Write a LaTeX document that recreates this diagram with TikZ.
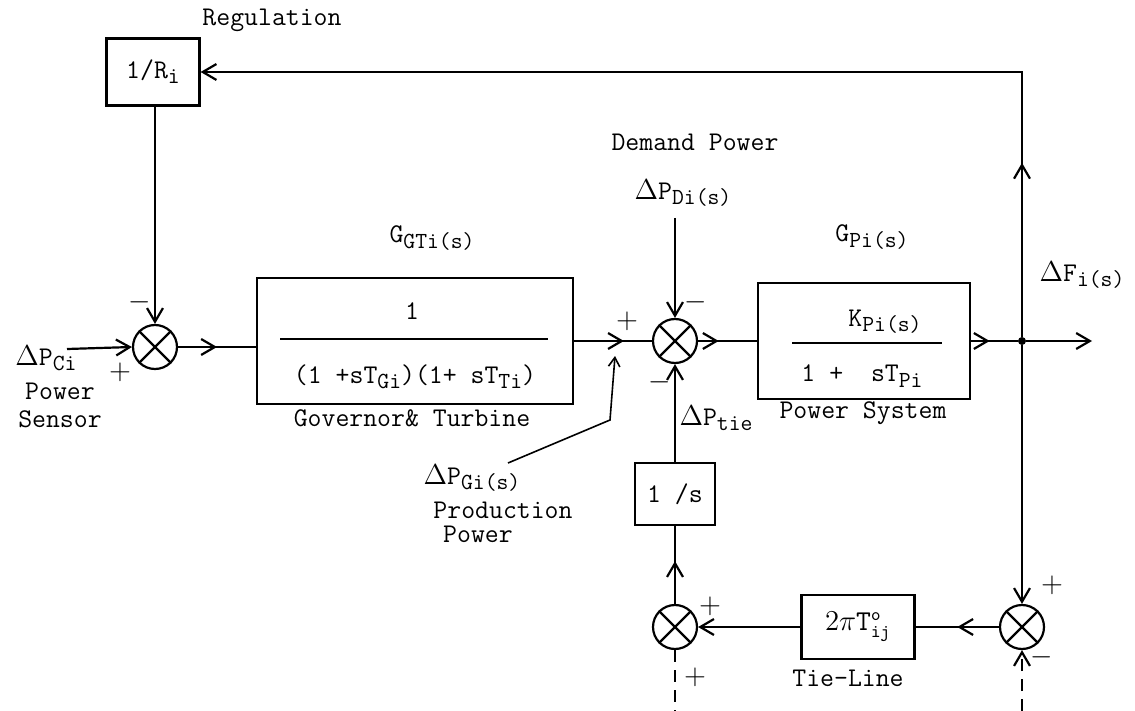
\documentclass[tikz,border=0pt]{standalone}
\usetikzlibrary{arrows.meta, positioning, decorations.markings}
\newcommand{\tsub}[1]{\raisebox{-0.45ex}{\fontsize{11.5}{12}\selectfont #1}}

\begin{document}
\begin{tikzpicture}[x=0.5pt,y=-0.5pt,
    font=\ttfamily\fontsize{13.5}{14}\selectfont,
    blk/.style={draw,line width=1.1pt,inner sep=0pt},
    sumj/.style={draw,circle,line width=1.1pt,minimum size=22pt,inner sep=0pt},
    fbar/.style={fill,inner sep=0pt,minimum height=1.1pt,minimum width=#1},
    sgn/.style={font=\Large,inner sep=0pt},
    wire/.style={line width=1.1pt},
    arr/.style={wire,-{Straight Barb[length=2.4mm,width=2.8mm]}},
    midarr/.style={wire,postaction={decorate},decoration={markings,
        mark=at position #1 with {\arrow{Straight Barb[length=2.4mm,width=2.8mm]}}}}]
  \useasboundingbox (0,0) rectangle (1135,711);
  % regulation loop
  \node[blk,minimum width=46.5pt,minimum height=33.5pt](reg) at (153,72){1/R\tsub{i}};
  \node(regl) at (272,20){Regulation};
  \node[sumj](sa) at (155,347){};
  \node[anchor=west,inner sep=0pt](pci) at (15,358){$\Delta$P\tsub{Ci}};
  \coordinate(pcin) at (67,349);
  \node[align=center](pcs) at (60,405){Power\\Sensor};
  \node[sgn](sap) at (120,372){$+$};
  \node[sgn](sam) at (140,302){$-$};
  % governor and turbine
  \node[blk,minimum width=158pt,minimum height=63pt](gt) at (415,341){};
  \node[fbar=134pt](gtbar) at (414,339){};
  \node(gtnum) at (412,311){1};
  \node(gtden) at (415,377){(1 +sT\tsub{Gi})(1+ sT\tsub{Ti})};
  \node(gtname) at (432,238){G\tsub{GTi(s)}};
  \node(gtlbl) at (412,418){Governor\& Turbine};
  % demand junction
  \node[sumj](sb) at (675,341){};
  \node[sgn](sbp) at (627,321){$+$};
  \node[sgn](sbm1) at (696,302){$-$};
  \node[sgn](sbm2) at (660,382){$-$};
  \node(dem) at (695,142){Demand Power};
  \node(pdi) at (683,193){$\Delta$P\tsub{Di(s)}};
  \coordinate(pdiin) at (675,218);
  \node(ptie) at (716,418){$\Delta$P\tsub{tie}};
  \node(pgi) at (472,478){$\Delta$P\tsub{Gi(s)}};
  \node(pgil) at (503,510){Production};
  \node(pgip) at (478,534){Power};
  \coordinate(pgit) at (508,463);
  \coordinate(pgik) at (610,420);
  \coordinate(pgiend) at (615,356);
  % power system
  \node[blk,minimum width=106pt,minimum height=58pt](ps) at (864,341){};
  \node[fbar=75pt](psbar) at (867,343){};
  \node(psnum) at (885,322){K\tsub{Pi(s)}};
  \node(psden) at (862,376){1 +\ \ sT\tsub{Pi}};
  \node(psname) at (872,237){G\tsub{Pi(s)}};
  \node(pslbl) at (863,413){Power System};
  \node[circle,fill,inner sep=0pt,minimum size=4pt](dot) at (1022,341){};
  \coordinate(out) at (1092,341);
  \node(dfi) at (1082,275){$\Delta$F\tsub{i(s)}};
  % tie-line
  \node[blk,minimum width=40pt,minimum height=31pt](inv) at (675,494){1 /s};
  \node[sumj](sc) at (675,627){};
  \node[sumj](sd) at (1022,627){};
  \node[blk,minimum width=56.5pt,minimum height=32pt](tie) at (858,627){$2\pi\mathtt{T}^{\mathtt{o}}_{\mathtt{ij}}$};
  \node(tiel) at (848,678){Tie-Line};
  \node[sgn](scp1) at (710,606){$+$};
  \node[sgn](scp2) at (695,677){$+$};
  \node[sgn](sdp) at (1052,585){$+$};
  \node[sgn](sdm) at (1042,657){$-$};
  \coordinate(scb) at (675,711);
  \coordinate(sdb) at (1022,711);
  \foreach \j in {sa,sb,sc,sd}
    \draw[wire](\j.north west)--(\j.south east)(\j.north east)--(\j.south west);
  % connectors
  \draw[arr](pcin)--(sa.west);
  \draw[arr](sa |- reg.south)--(sa.north);
  \draw[midarr=0.5](sa.east)--(sa.east -| gt.west);
  \draw[midarr=0.64](gt.east)--(sb.west);
  \draw[midarr=0.35](sb.east)--(ps.west);
  \draw[midarr=0.4](ps.east)--(dot);
  \draw[arr](dot)--(out);
  \draw[arr,midarr=0.16](dot)--(dot |- reg.east)--(reg.east);
  \draw[arr](dot)--(sd.north);
  \draw[midarr=0.5](sd.west)--(tie.east);
  \draw[arr](tie.west)--(sc.east);
  \draw[midarr=0.55](sc.north)--(inv.south);
  \draw[arr](inv.north)--(sb.south);
  \draw[arr](pdiin)--(sb.north);
  \draw[wire,dash pattern=on 6pt off 4pt](sc.south)--(scb);
  \draw[arr,dash pattern=on 6pt off 4pt](sdb)--(sd.south);
  \draw[-{Straight Barb[length=1.6mm,width=2mm]},line width=0.8pt](pgit)--(pgik)--(pgiend);
\end{tikzpicture}
\end{document}
